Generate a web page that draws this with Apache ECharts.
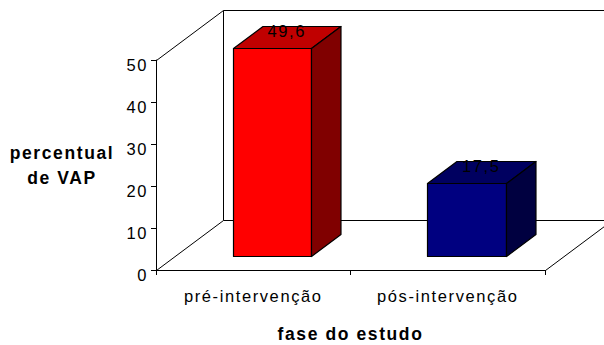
<!DOCTYPE html>
<html>
<head>
<meta charset="utf-8">
<title>percentual de VAP</title>
<script src="https://cdn.jsdelivr.net/npm/echarts@6/dist/echarts.min.js"></script>
<style>
  html, body { margin: 0; padding: 0; background: #fff; }
  #chart { width: 604px; height: 345px; }
  /* wide letter spacing, as in the original office chart */
  #chart svg text { letter-spacing: 1.6px; }
</style>
</head>
<body>
<div id="chart"></div>
<script>
// data
const categories = ['pré-intervenção', 'pós-intervenção'];
const vapPercent = [49.6, 17.5];
const yMin = 0, yMax = 50, yStep = 10;

// 3D look: depth vector of the box, bar depth range, face colours
const DX = 67, DY = -50;
const D0 = 0.28, D1 = 0.72;
const BAR_FRAC = 0.405;
const faceColors = [
  { front: '#ff0000', top: '#c00000', side: '#800000' },
  { front: '#000080', top: '#000060', side: '#000040' }
];
const FONT = '"Liberation Sans", Arial, sans-serif';

const fmt = v => String(v).replace('.', ',');
const px = v => Math.round(v) + 0.5;

const chart = echarts.init(document.getElementById('chart'), null, { renderer: 'svg' });

function renderFrame(params, api) {
  const cs = params.coordSys;
  const x0 = px(cs.x), x1 = px(cs.x + cs.width);
  const y0 = px(cs.y), y1 = px(cs.y + cs.height);
  const line = { stroke: '#000', lineWidth: 1, fill: null };
  return {
    type: 'group',
    children: [
      { type: 'polygon', shape: { points: [[x0 + DX, y0 + DY], [x1 + DX, y0 + DY], [x1 + DX, y1 + DY], [x0 + DX, y1 + DY]] },
        style: { fill: '#fff', stroke: '#000', lineWidth: 1 } },
      { type: 'line', shape: { x1: x0, y1: y0, x2: x0 + DX, y2: y0 + DY }, style: line },
      { type: 'line', shape: { x1: x0, y1: y1, x2: x0 + DX, y2: y1 + DY }, style: line },
      { type: 'line', shape: { x1: x1, y1: y1, x2: x1 + DX, y2: y1 + DY }, style: line }
    ]
  };
}

function renderBar(params, api) {
  const i = api.value(0);
  const v = api.value(1);
  const top = api.coord([i, v]);
  const base = api.coord([i, 0]);
  const bw = api.size([1, 0])[0] * BAR_FRAC;
  const c = faceColors[i];
  const xl = px(top[0] - bw / 2 + DX * D0);
  const xr = px(top[0] + bw / 2 + DX * D0);
  const yt = px(top[1] + DY * D0);
  const yb = px(base[1] + DY * D0);
  const dx = DX * (D1 - D0), dy = DY * (D1 - D0);
  const edge = { stroke: '#000', lineWidth: 1.2, lineJoin: 'round' };
  return {
    type: 'group',
    children: [
      { type: 'polygon', shape: { points: [[xl, yt], [xr, yt], [xr, yb], [xl, yb]] },
        style: Object.assign({ fill: c.front }, edge) },
      { type: 'polygon', shape: { points: [[xl, yt], [xl + dx, yt + dy], [xr + dx, yt + dy], [xr, yt]] },
        style: Object.assign({ fill: c.top }, edge) },
      { type: 'polygon', shape: { points: [[xr, yt], [xr + dx, yt + dy], [xr + dx, yb + dy], [xr, yb]] },
        style: Object.assign({ fill: c.side }, edge) },
      { type: 'text',
        style: { text: fmt(v), x: top[0] + DX * 0.5, y: top[1] + DY * 0.5 - 5.5,
                 align: 'center', verticalAlign: 'middle',
                 font: '16.5px ' + FONT, fill: '#000' } }
    ]
  };
}

chart.setOption({
  animation: false,
  backgroundColor: '#fff',
  grid: { left: 156, right: 59, top: 60, bottom: 75, outerBoundsMode: 'none', containLabel: false },
  xAxis: {
    type: 'category',
    data: categories,
    name: 'fase do estudo',
    nameLocation: 'middle',
    nameGap: 55,
    nameTextStyle: { fontFamily: FONT, fontSize: 17.5, fontWeight: 'bold', color: '#000' },
    axisLine: { lineStyle: { color: '#000', width: 1 } },
    axisTick: { show: true, length: 5, lineStyle: { color: '#000' } },
    axisLabel: { fontFamily: FONT, fontSize: 16.5, color: '#000', margin: 17 },
    splitLine: { show: false }
  },
  yAxis: {
    type: 'value',
    min: yMin, max: yMax, interval: yStep,
    name: 'percentual\nde VAP',
    nameLocation: 'middle',
    nameRotate: 0,
    nameGap: 94,
    nameTextStyle: { fontFamily: FONT, fontSize: 17.5, fontWeight: 'bold', color: '#000',
                     align: 'center', verticalAlign: 'middle', lineHeight: 25 },
    axisLine: { show: true, lineStyle: { color: '#000', width: 1 } },
    axisTick: { show: true, length: 5, lineStyle: { color: '#000' } },
    axisLabel: { fontFamily: FONT, fontSize: 16.5, color: '#000', margin: 8,
                 verticalAlign: 'top', lineHeight: 9 },
    splitLine: { show: false }
  },
  series: [
    { type: 'custom', name: 'frame', z: 1, silent: true, data: [[0, 0]], renderItem: renderFrame },
    { type: 'custom', name: 'VAP', z: 3,
      data: categories.map((c, i) => [i, vapPercent[i]]),
      encode: { x: 0, y: 1 },
      renderItem: renderBar }
  ]
});
</script>
</body>
</html>
